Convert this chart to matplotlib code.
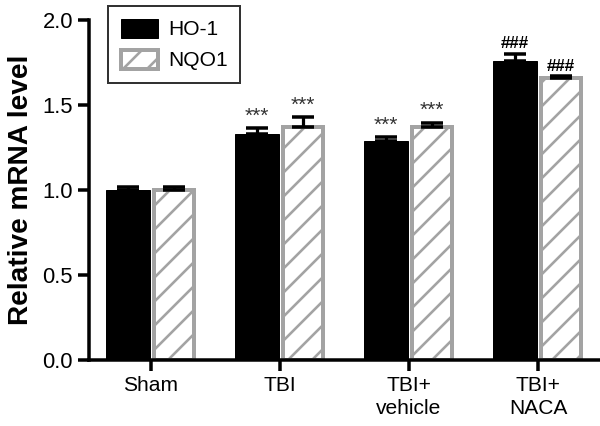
import matplotlib
matplotlib.use('Agg')

import numpy as np
import matplotlib.pyplot as plt

# dpi 72 so that 1 pt == 1 px (also gives the wider hatch spacing of the original)
DPI = 72
plt.rcParams['font.family'] = ['Liberation Sans', 'DejaVu Sans']
plt.rcParams['hatch.linewidth'] = 2.6
plt.rcParams['hatch.color'] = '#a3a3a3'

groups = ['Sham', 'TBI', 'TBI+\nvehicle', 'TBI+\nNACA']
ho1 = [1.00, 1.33, 1.29, 1.76]
ho1_err = [0.02, 0.035, 0.02, 0.04]
nqo1 = [1.00, 1.37, 1.37, 1.66]
nqo1_err = [0.015, 0.06, 0.025, 0.01]
ho1_marks = ['', '***', '***', '###']
nqo1_marks = ['', '***', '***', '###']

grey = '#a3a3a3'

fig = plt.figure(figsize=(600 / DPI, 426 / DPI), dpi=DPI)
ax = fig.add_axes([89 / 600, 1 - 360 / 426, 1 - 89 / 600, 340 / 426])

x = np.arange(len(groups))
w = 0.335
off = 0.178

ax.bar(x - off, ho1, w, color='black', edgecolor='black', linewidth=1,
       yerr=[np.zeros(len(ho1)), ho1_err], capsize=11,
       error_kw=dict(elinewidth=3.2, capthick=3.5, ecolor='black'), label='HO-1', zorder=2)
ax.bar(x + off, nqo1, w - 0.03, color='white', edgecolor=grey, linewidth=4, hatch='/',
       yerr=[np.zeros(len(nqo1)), nqo1_err], capsize=11,
       error_kw=dict(elinewidth=3.2, capthick=3.5, ecolor='black'), label='NQO1', zorder=2)

for i in range(len(groups)):
    for xi, top, m in [(x[i] - off, ho1[i] + ho1_err[i], ho1_marks[i]),
                       (x[i] + off, nqo1[i] + nqo1_err[i], nqo1_marks[i])]:
        if not m:
            continue
        if m == '***':
            ax.text(xi, top + 0.015, m, ha='center', va='bottom', fontsize=21, color='#333333')
        else:
            ax.text(xi, top + 0.015, m, ha='center', va='bottom', fontsize=17,
                    color='black', fontweight='bold')

ax.set_xlim(-0.48, 3.48)
ax.set_ylim(0, 2.0)
ax.set_yticks([0.0, 0.5, 1.0, 1.5, 2.0])
ax.set_yticklabels(['0.0', '0.5', '1.0', '1.5', '2.0'], fontsize=22)
ax.set_xticks(x)
ax.set_xticklabels(groups, fontsize=21, linespacing=1.25)
ax.set_ylabel('Relative mRNA level', fontsize=28, fontweight='bold', labelpad=8)

for s in ['top', 'right']:
    ax.spines[s].set_visible(False)
for s in ['left', 'bottom']:
    ax.spines[s].set_linewidth(3.5)
ax.tick_params(axis='both', width=3.5, length=11, direction='out', pad=5)

leg = ax.legend(loc='lower left', bbox_to_anchor=(108 / 600, 1 - 83 / 426),
                bbox_transform=fig.transFigure, fontsize=21,
                frameon=True, fancybox=False, edgecolor='#333333', framealpha=1,
                handlelength=1.8, handleheight=1.0, handletextpad=0.45,
                borderpad=0.6, labelspacing=0.5, borderaxespad=0)
leg.get_frame().set_linewidth(2)

plt.savefig('out.png', dpi=DPI)
